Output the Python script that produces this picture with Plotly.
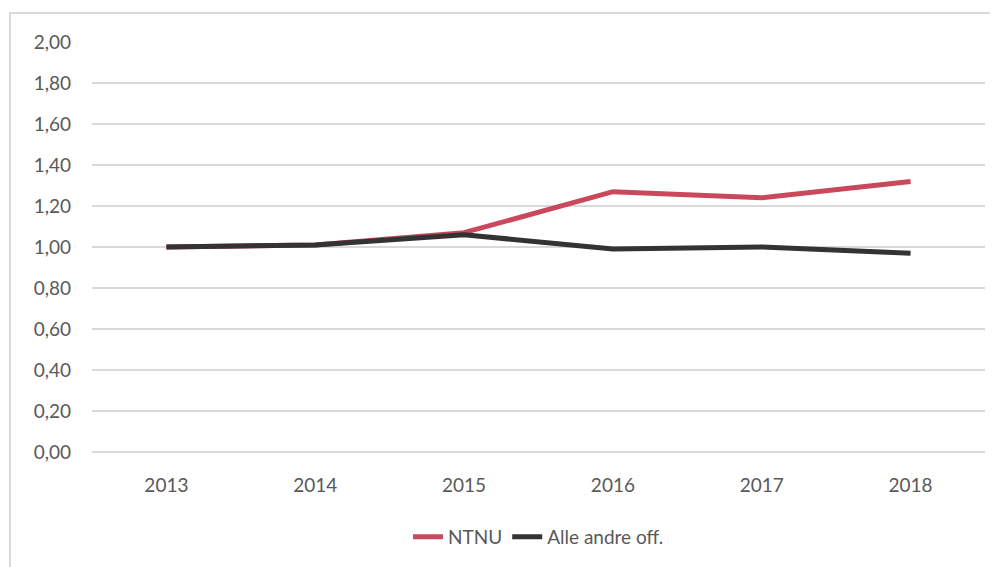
import plotly.graph_objects as go

years = ["2013", "2014", "2015", "2016", "2017", "2018"]
ntnu = [1.00, 1.01, 1.07, 1.27, 1.24, 1.32]
andre = [1.00, 1.01, 1.06, 0.99, 1.00, 0.97]

RED = "#C9485B"
DARK = "#333333"
GRID = "#D9D9D9"
TXT = "#595959"

fig = go.Figure()
fig.add_trace(go.Scatter(x=years, y=ntnu, name="NTNU", mode="lines",
                         line=dict(color=RED, width=5)))
fig.add_trace(go.Scatter(x=years, y=andre, name="Alle andre off.", mode="lines",
                         line=dict(color=DARK, width=5)))

# outer chart frame (partly cropped in the original)
fig.add_shape(type="rect", xref="paper", yref="paper",
              x0=-0.0918, x1=1.2, y0=-0.4, y1=1.0707,
              line=dict(color=GRID, width=2))

# page body has an 8px margin, so shrink/shift to compensate
fig.update_layout(
    width=982, height=559,
    margin=dict(l=84, r=5, t=34, b=115),
    paper_bgcolor="white", plot_bgcolor="white",
    separators=", ",
    font=dict(family="Lato, Open Sans, sans-serif", size=19, color=TXT),
    legend=dict(orientation="h", x=0.5, xanchor="center", y=-0.207, yanchor="middle",
                font=dict(size=19, color=TXT)),
    showlegend=True,
)
fig.update_yaxes(range=[0, 2], dtick=0.2, tickformat=".2f", gridcolor=GRID, gridwidth=1.5,
                 zeroline=True, zerolinecolor=GRID, zerolinewidth=1.5,
                 showline=False, ticklabelstandoff=20, fixedrange=True)
fig.update_xaxes(type="category", range=[-0.5, 5.5], showgrid=False, showline=False,
                 ticklabelstandoff=20, fixedrange=True)

fig.write_html("out.html")
